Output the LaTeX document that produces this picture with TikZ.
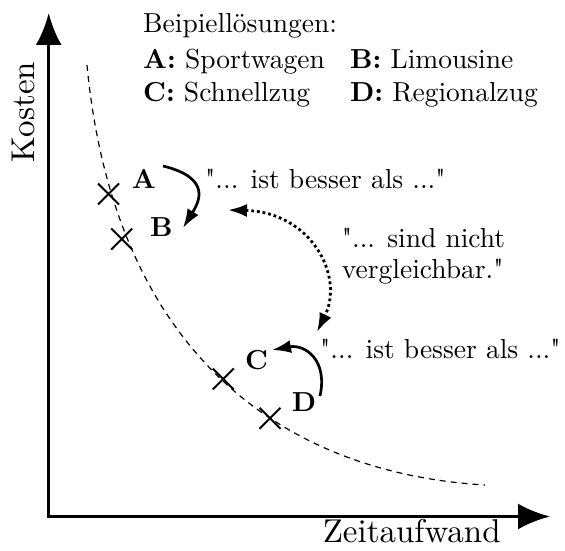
\documentclass[tikz,border=0pt]{standalone}
\usepackage{fontspec}
\setmainfont{lmroman10-regular.otf}[BoldFont=lmroman10-bold.otf, Ligatures=TeXOff]
\usetikzlibrary{arrows.meta,shapes.misc}
\begin{document}
\begin{tikzpicture}[x=1pt,y=1pt,
  txt/.style={inner sep=0pt, anchor=base west, font=\fontsize{27.5}{33}\selectfont},
  lbl/.style={txt, font=\fontsize{27.5}{33}\selectfont\bfseries},
  axlabel/.style={inner sep=0pt, anchor=base, font=\fontsize{33}{40}\selectfont},
  axis/.style={line width=3.3pt, {Latex[length=32pt,width=26pt]}-{Latex[length=32pt,width=26pt]}},
  xmark/.style={cross out, draw, line width=2pt, minimum size=19pt, inner sep=0pt},
  front/.style={line width=1.2pt, dash pattern=on 6pt off 5pt},
  better/.style={line width=2.7pt, -{Latex[length=19pt,width=13pt]}},
  incomp/.style={line width=2.8pt, dash pattern=on 2.8pt off 2.9pt,
    {Latex[length=19pt,width=13pt]}-{Latex[length=19pt,width=13pt]}},
]
\useasboundingbox (0,0) rectangle (565,550);

% axes
\coordinate (O) at (48.7,33.5);
\coordinate (ytip) at (48.7,537);
\coordinate (xtip) at (550,33.5);
\draw[axis] (ytip) -- (O) -- (xtip);
\node[axlabel, rotate=90] (ky) at (35,438) {Kosten};
\node[axlabel] (kx) at (411.7,8) {Zeitaufwand};

% legend
\node[txt] (leg)  at (143,517)   {Beipiellösungen:};
\node[txt] (legA) at (143,481.7) {\textbf{A:} Sportwagen};
\node[txt] (legC) at (143,448.3) {\textbf{C:} Schnellzug};
\node[txt] (legB) at (350,481.7) {\textbf{B:} Limousine};
\node[txt] (legD) at (350,448.3) {\textbf{D:} Regionalzug};

% Pareto front
\coordinate (fS) at (87,485);
\coordinate (fE) at (485,65);
\draw[front] (fS) .. controls (112.4,215) and (265,78.2) .. (fE);

% solutions
\node[xmark] (pA) at (108.5,356) {};
\node[xmark] (pB) at (121.7,311) {};
\node[xmark] (pC) at (223.3,171) {};
\node[xmark] (pD) at (270,131.7) {};
\node[lbl] (lA) at (131.7,361.7) {A};
\node[lbl] (lB) at (150,313.3) {B};
\node[lbl] (lC) at (245,181) {C};
\node[lbl] (lD) at (291.7,138.3) {D};

% relations
\coordinate (abS) at (163,384);
\coordinate (abE) at (183,322);
\draw[better] (abS) .. controls +(49,-12) and +(16,26) .. (abE);
\node[txt] (t1) at (205,361.7) {"... ist besser als ..."};

\coordinate (dcS) at (320,154);
\coordinate (dcE) at (272,200);
\draw[better] (dcS) .. controls +(8,36) and +(33,6) .. (dcE);
\node[txt] (t3) at (320,191.7) {"... ist besser als ..."};

\coordinate (cmpS) at (228,340);
\coordinate (cmpE) at (317,218);
\draw[incomp] (cmpS) .. controls +(82,-2) and +(28,57) .. (cmpE);
\node[txt] (t2a) at (341.7,302.7) {"... sind nicht};
\node[txt] (t2b) at (341.7,271.7) {vergleichbar."};
\end{tikzpicture}
\end{document}
